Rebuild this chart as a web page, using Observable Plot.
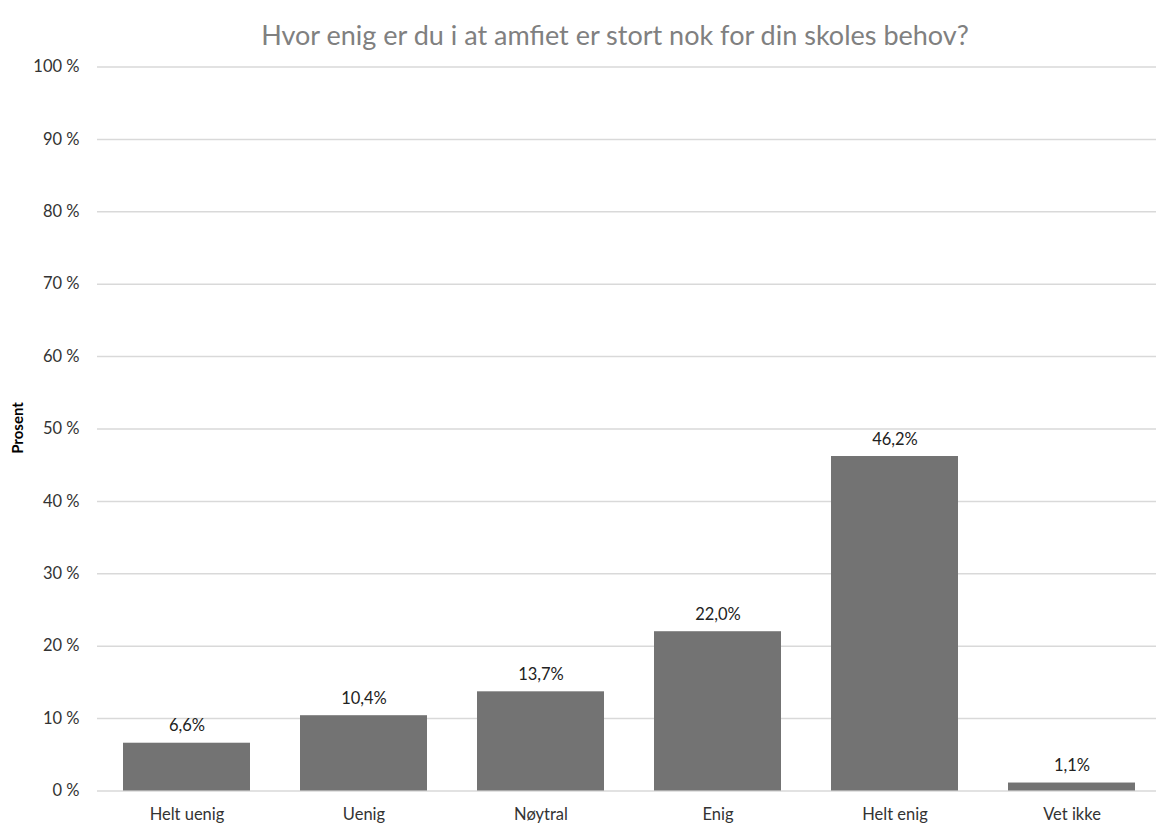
<!DOCTYPE html>
<html>
<head>
<meta charset="utf-8">
<script src="https://cdn.jsdelivr.net/npm/d3@7"></script>
<script src="https://cdn.jsdelivr.net/npm/@observablehq/plot@0.6"></script>
<style>
  html, body { margin: 0; padding: 0; background: #fff; overflow: hidden; }
  #wrap { position: relative; width: 1156px; height: 827px; }
  #title { position: absolute; top: 19px; left: 615px; transform: translateX(-50%); white-space: nowrap;
    font-family: Lato, sans-serif; font-size: 27px; color: #808080; line-height: 32px; }
  #chart { position: absolute; top: 56px; left: 0; }
  #ylab { position: absolute; left: 17px; top: 428px; transform: translate(-50%, -50%) rotate(-90deg);
    font-family: Lato, sans-serif; font-weight: bold; font-size: 15px; color: #000; white-space: nowrap; }
</style>
</head>
<body>
<div id="wrap">
  <div id="title">Hvor enig er du i at amfiet er stort nok for din skoles behov?</div>
  <div id="ylab">Prosent</div>
  <div id="chart"></div>
</div>
<script>
const categories = ["Helt uenig", "Uenig", "Nøytral", "Enig", "Helt enig", "Vet ikke"];
const values = [6.6, 10.4, 13.7, 22.0, 46.2, 1.1];
const yTicks = [0, 10, 20, 30, 40, 50, 60, 70, 80, 90, 100];

const data = categories.map((c, i) => ({category: c, value: values[i]}));
const fmt = v => v.toFixed(1).replace(".", ",") + "%";

const chart = Plot.plot({
  width: 1156,
  height: 771,
  marginTop: 10.5,
  marginBottom: 36.5,
  marginLeft: 97,
  marginRight: 0,
  style: {fontFamily: "Lato, sans-serif", fontSize: "16.5px", color: "#404040", background: "transparent", overflow: "visible"},
  x: {domain: categories, range: [97, 1161.5], paddingInner: 0.28, paddingOuter: 0.14, label: null},
  y: {domain: [0, 100], label: null},
  marks: [
    Plot.ruleY(yTicks, {stroke: "#d9d9d9", strokeWidth: 1.5}),
    Plot.barY(data, {x: "category", y: "value", fill: "#737373"}),
    Plot.text(data, {x: "category", y: "value", text: d => fmt(d.value), dy: -17, fill: "#222", fontSize: 16.5}),
    Plot.axisY(yTicks, {tickSize: 0, tickPadding: 18, tickFormat: d => d + " %", fill: "#333", fontSize: 16.5, label: null}),
    Plot.axisX({tickSize: 0, tickPadding: 17, fill: "#333", fontSize: 16.5, label: null})
  ]
});
document.getElementById("chart").appendChild(chart);
</script>
</body>
</html>
